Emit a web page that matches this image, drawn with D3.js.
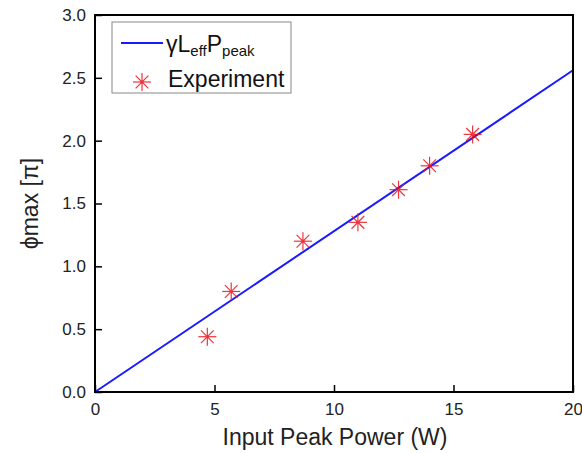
<!DOCTYPE html>
<html><head><meta charset="utf-8">
<script src="https://cdn.jsdelivr.net/npm/d3@7"></script>
<style>body{margin:0;background:#fff}svg{display:block;font-family:"Liberation Sans",Arial,sans-serif}</style>
</head><body><svg id="c" width="582" height="453"></svg>
<script>
const expPower = [4.7, 5.7, 8.7, 11.0, 12.7, 14.0, 15.8];
const expPhi = [0.44, 0.80, 1.20, 1.35, 1.61, 1.80, 2.05];
const fitPower = [0, 20];
const fitPhi = [0, 2.56];
const xTicks = [0, 5, 10, 15, 20];
const yTicks = [0, 0.5, 1.0, 1.5, 2.0, 2.5, 3.0];

const svg = d3.select("#c");
const L = 95, R = 573, T = 15, B = 392;
const x = d3.scaleLinear().domain([0, 20]).range([L, R]);
const y = d3.scaleLinear().domain([0, 3]).range([B, T]);

// fit line
svg.append("path")
  .datum(fitPower.map((p, i) => [p, fitPhi[i]]))
  .attr("d", d3.line().x(d => x(d[0])).y(d => y(d[1])))
  .attr("stroke", "#1a1aff").attr("stroke-width", 2).attr("fill", "none");

function star(g, cx, cy, r, color) {
  const s = g.append("g").attr("transform", `translate(${cx},${cy})`)
    .attr("stroke", color).attr("stroke-width", 1.2).attr("opacity", 0.85);
  for (let k = 0; k < 4; k++) {
    const a = k * Math.PI / 4;
    s.append("line").attr("x1", -r * Math.cos(a)).attr("y1", -r * Math.sin(a))
      .attr("x2", r * Math.cos(a)).attr("y2", r * Math.sin(a));
  }
  s.append("circle").attr("r", 1.8).attr("fill", color).attr("stroke", "none");
}
const pts = svg.append("g");
expPower.forEach((p, i) => star(pts, x(p), y(expPhi[i]), 9, "#e8141e"));

// axes
const xa = svg.append("g").attr("transform", `translate(0,${B})`)
  .call(d3.axisBottom(x).tickValues(xTicks).tickFormat(d3.format("d")).tickSizeInner(-7).tickSizeOuter(0).tickPadding(11));
const ya = svg.append("g").attr("transform", `translate(${L},0)`)
  .call(d3.axisLeft(y).tickValues(yTicks).tickFormat(d3.format(".1f")).tickSizeInner(-7).tickSizeOuter(0).tickPadding(9));
[xa, ya].forEach(a => {
  a.select(".domain").remove();
  a.selectAll(".tick line").attr("stroke", "#000").attr("stroke-width", 1.5);
  a.selectAll(".tick text").attr("font-size", 17).attr("fill", "#222")
    .attr("font-family", "'Liberation Sans',Arial,sans-serif");
});
xa.selectAll(".tick text").attr("dy", "0.71em");

// frame
svg.append("rect").attr("x", L).attr("y", T).attr("width", R - L).attr("height", B - T)
  .attr("fill", "none").attr("stroke", "#000").attr("stroke-width", 2);

// axis labels
svg.append("text").attr("x", 335).attr("y", 445).attr("text-anchor", "middle")
  .attr("font-size", 23).attr("fill", "#222").text("Input Peak Power (W)");
svg.append("text").attr("transform", `translate(38,${(T + B) / 2}) rotate(-90)`)
  .attr("text-anchor", "middle").attr("font-size", 23).attr("fill", "#222").text("ϕmax [π]");

// legend
const lg = svg.append("g");
lg.append("rect").attr("x", 112).attr("y", 22).attr("width", 179).attr("height", 71)
  .attr("fill", "#fff").attr("stroke", "#888").attr("stroke-width", 1);
lg.append("line").attr("x1", 121).attr("x2", 163).attr("y1", 43).attr("y2", 43)
  .attr("stroke", "#1a1aff").attr("stroke-width", 2);
const t1 = lg.append("text").attr("x", 166).attr("y", 52).attr("font-size", 23).attr("fill", "#111");
t1.append("tspan").text("γL");
t1.append("tspan").attr("font-size", 15).attr("dy", 4).text("eff");
t1.append("tspan").attr("dy", -4).text("P");
t1.append("tspan").attr("font-size", 15).attr("dy", 4).text("peak");
star(lg, 142, 82, 9, "#e8141e");
lg.append("text").attr("x", 168).attr("y", 87).attr("font-size", 23).attr("fill", "#111").text("Experiment");
</script></body></html>
